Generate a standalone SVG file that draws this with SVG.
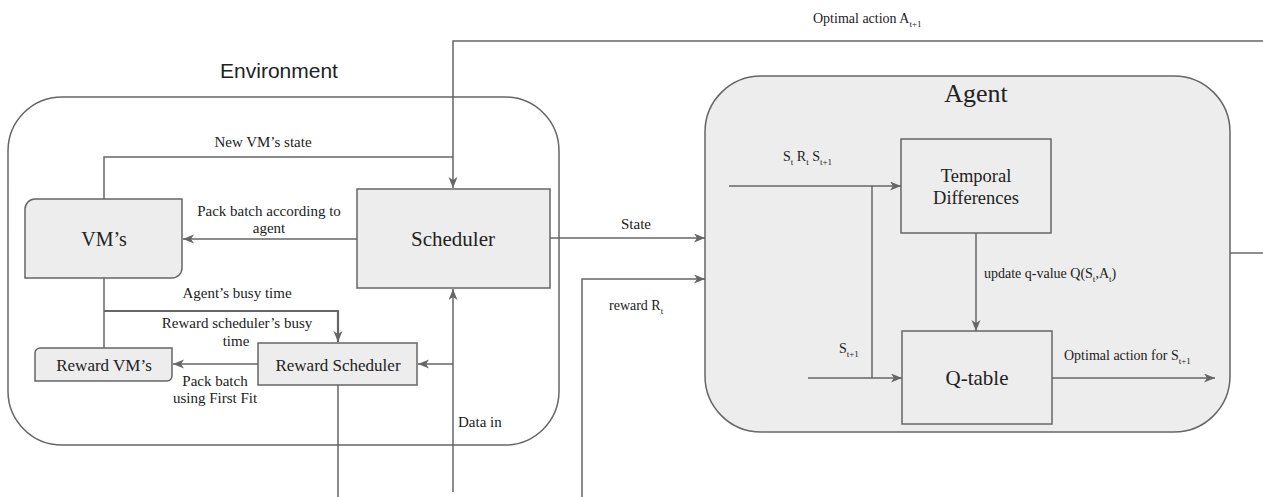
<svg xmlns="http://www.w3.org/2000/svg" width="1263" height="497" viewBox="0 0 1263 497">
  <defs>
    <marker id="arr" markerUnits="userSpaceOnUse" markerWidth="12" markerHeight="10" refX="11" refY="4.5" orient="auto">
      <path d="M0,0 L11,4.5 L0,9 L3,4.5 Z" fill="#666"/>
    </marker>
    <style>
      .box { fill: #ededed; stroke: #666; stroke-width: 1.5; }
      .cont { stroke: #666; stroke-width: 1.5; }
      .ln { fill: none; stroke: #666; stroke-width: 1.5; }
      .thick { stroke-width: 2.2; }
      .arrow { marker-end: url(#arr); }
      .serif { font-family: "Liberation Serif", "Times New Roman", serif; fill: #222; }
      .sans { font-family: "Liberation Sans", Arial, sans-serif; fill: #222; }
      .mid { text-anchor: middle; }
      .lbl { font-size: 15px; }
      .small { font-size: 14px; }
      .sub { font-size: 9px; }
    </style>
  </defs>

  <!-- containers -->
  <g id="environment">
    <rect class="cont" x="8" y="97" width="551" height="348" rx="54" ry="54" fill="#fff"/>
    <text class="sans mid" x="279" y="78" font-size="21">Environment</text>
  </g>
  <g id="agent">
    <rect class="cont" x="705" y="76" width="525" height="356" rx="56" ry="56" fill="#ededed"/>
    <text class="serif mid" x="976" y="102" font-size="26">Agent</text>
  </g>

  <!-- connectors -->
  <g id="connectors">
    <!-- optimal action fed back to the scheduler -->
    <path class="ln" d="M1230,253 H1263"/>
    <path class="ln arrow" d="M1263,41 H453 V188"/>
    <!-- new VM state -->
    <path class="ln" d="M104,199 V157 H453"/>
    <!-- scheduler to VMs -->
    <path class="ln arrow" d="M357,239 H183"/>
    <!-- VMs to reward VMs -->
    <path class="ln" d="M104,278 V348"/>
    <!-- busy time to reward scheduler -->
    <path class="ln thick arrow" d="M104,311 H338 V342"/>
    <!-- reward scheduler to reward VMs -->
    <path class="ln arrow" d="M258,364 H173"/>
    <!-- reward scheduler output -->
    <path class="ln" d="M338,385 V497"/>
    <!-- data in -->
    <path class="ln arrow" d="M453,492 V289"/>
    <path class="ln arrow" d="M453,364 H418"/>
    <!-- state to agent -->
    <path class="ln arrow" d="M550,238 H705"/>
    <!-- reward to agent -->
    <path class="ln arrow" d="M582,497 V279 H705"/>
    <!-- agent internals -->
    <path class="ln arrow" d="M729,186 H901"/>
    <path class="ln" d="M872,186 V378"/>
    <path class="ln arrow" d="M808,378 H902"/>
    <path class="ln arrow" d="M976,233 V331"/>
    <path class="ln arrow" d="M1052,378 H1215"/>
  </g>

  <!-- nodes -->
  <g id="vms">
    <path class="box" d="M35,199 H182 V268 A10,10 0 0 1 172,278 H25 V209 A10,10 0 0 1 35,199 Z"/>
    <text class="serif mid" x="104" y="246" font-size="20">VM’s</text>
  </g>
  <g id="scheduler">
    <rect class="box" x="357" y="189" width="193" height="99"/>
    <text class="serif mid" x="453" y="246" font-size="21">Scheduler</text>
  </g>
  <g id="reward-vms">
    <path class="box" d="M40,348 H172 V376 A5,5 0 0 1 167,381 H35 V353 A5,5 0 0 1 40,348 Z"/>
    <text class="serif mid" x="104" y="371" font-size="17">Reward VM’s</text>
  </g>
  <g id="reward-scheduler">
    <rect class="box" x="258" y="343" width="159" height="42"/>
    <text class="serif mid" x="338" y="371" font-size="17">Reward Scheduler</text>
  </g>
  <g id="temporal-differences">
    <rect class="box" x="901" y="139" width="150" height="94"/>
    <text class="serif mid" x="976" y="182" font-size="18.5">Temporal</text>
    <text class="serif mid" x="976" y="204" font-size="18.5">Differences</text>
  </g>
  <g id="q-table">
    <rect class="box" x="902" y="331" width="150" height="93"/>
    <text class="serif mid" x="977" y="385" font-size="21">Q-table</text>
  </g>

  <!-- connector labels -->
  <g id="labels">
    <text class="serif small" x="813" y="23">Optimal action A<tspan class="sub" dy="4">t+1</tspan></text>
    <text class="serif lbl mid" x="263" y="147">New VM’s state</text>
    <text class="serif lbl mid" x="269" y="216">Pack batch according to</text>
    <text class="serif lbl mid" x="269" y="233">agent</text>
    <text class="serif lbl mid" x="237" y="298">Agent’s busy time</text>
    <text class="serif lbl mid" x="237" y="328">Reward scheduler’s busy</text>
    <text class="serif lbl mid" x="236" y="346">time</text>
    <text class="serif lbl mid" x="215" y="386">Pack batch</text>
    <text class="serif lbl mid" x="215" y="403">using First Fit</text>
    <text class="serif lbl" x="458" y="427">Data in</text>
    <text class="serif lbl mid" x="636" y="229">State</text>
    <text class="serif small" x="609" y="310">reward R<tspan class="sub" dy="4">t</tspan></text>
    <text class="serif small" x="783" y="161">S<tspan class="sub" dy="4">t</tspan><tspan dy="-4"> R</tspan><tspan class="sub" dy="4">t</tspan><tspan dy="-4"> S</tspan><tspan class="sub" dy="4">t+1</tspan></text>
    <text class="serif small" x="984" y="278">update q-value Q(S<tspan class="sub" dy="4">t</tspan><tspan dy="-4">,A</tspan><tspan class="sub" dy="4">t</tspan><tspan dy="-4">)</tspan></text>
    <text class="serif small" x="839" y="353">S<tspan class="sub" dy="4">t+1</tspan></text>
    <text class="serif small" x="1064" y="360">Optimal action for S<tspan class="sub" dy="4">t+1</tspan></text>
  </g>
</svg>
